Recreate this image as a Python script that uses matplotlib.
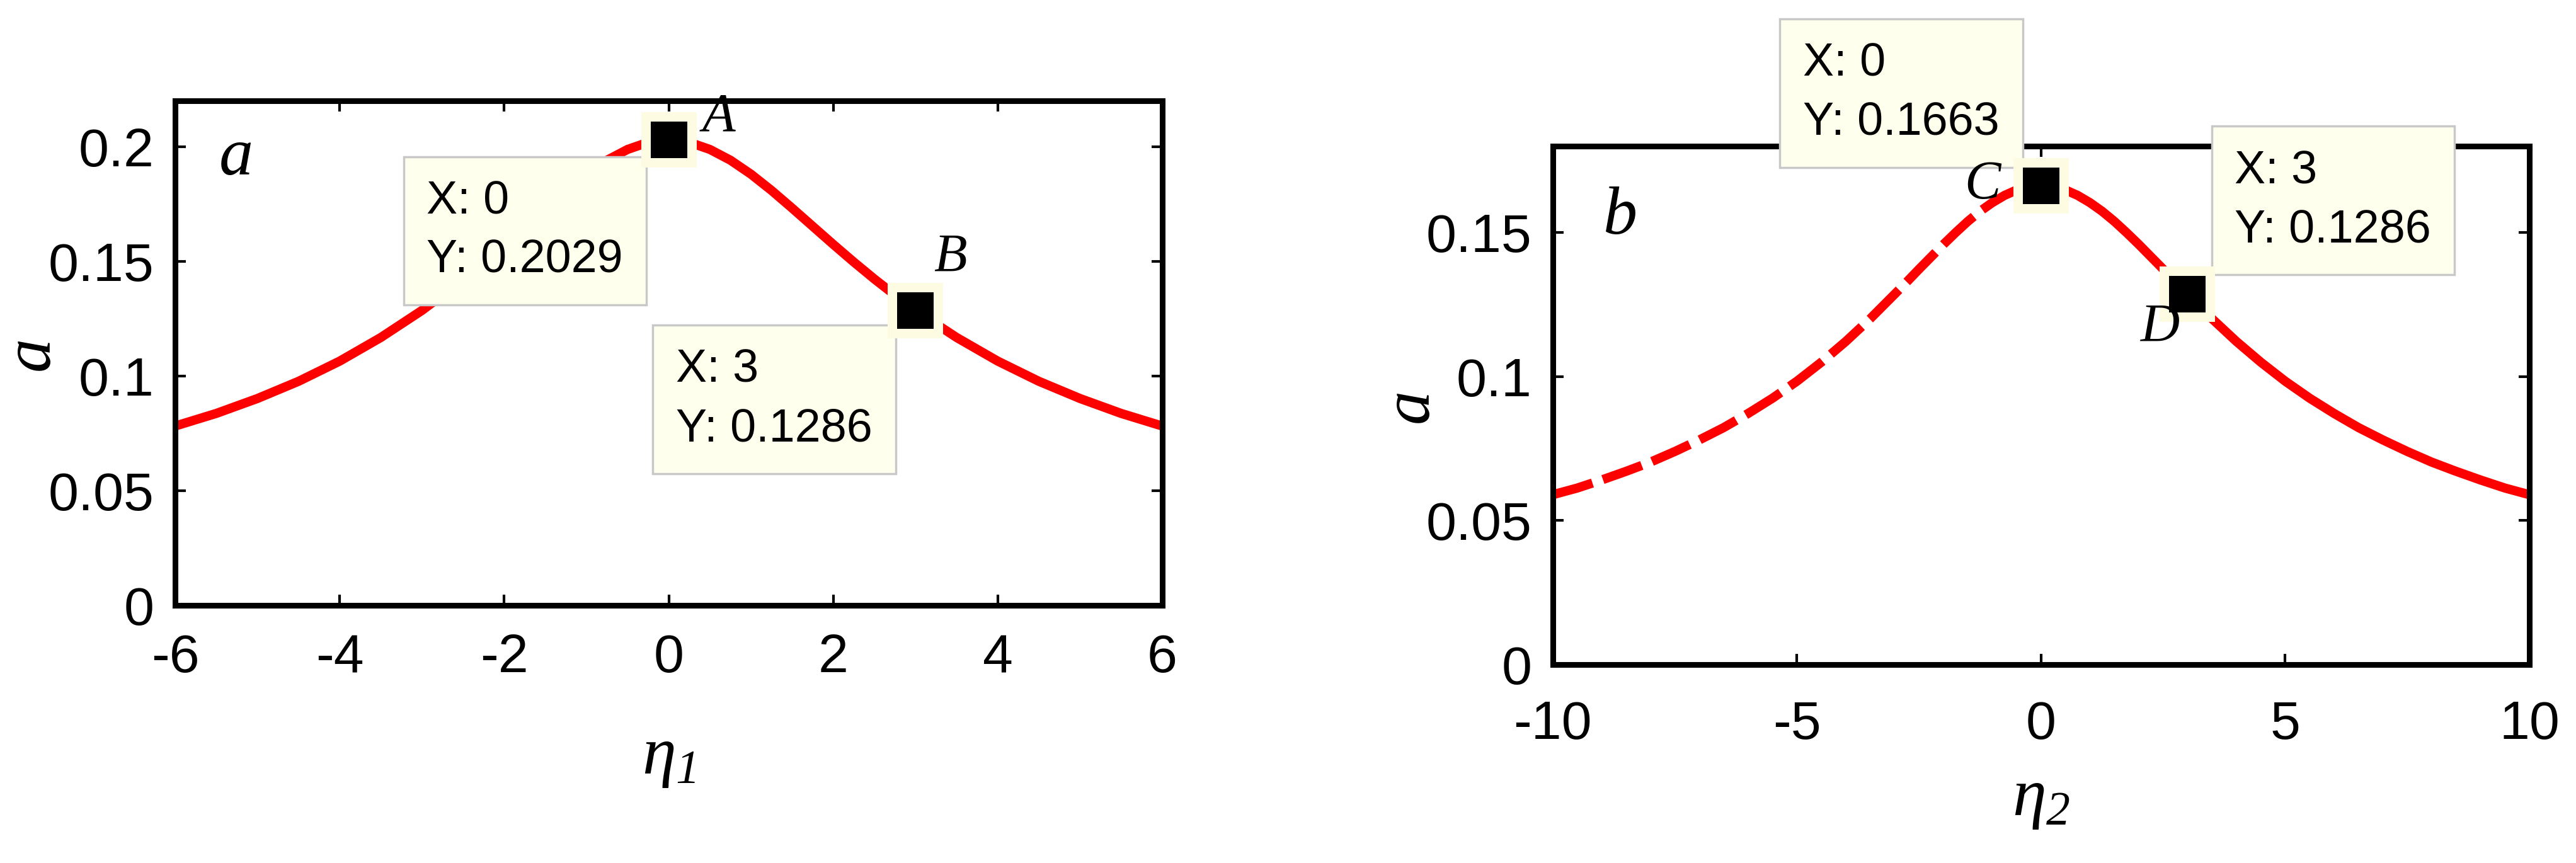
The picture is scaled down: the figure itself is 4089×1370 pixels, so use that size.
import matplotlib
matplotlib.use('Agg')
import matplotlib.pyplot as plt

plt.rcParams['font.family'] = ['Liberation Sans', 'DejaVu Sans']
plt.rcParams['mathtext.fontset'] = 'custom'
plt.rcParams['mathtext.it'] = 'Liberation Serif:italic'
plt.rcParams['mathtext.rm'] = 'Liberation Serif:italic'
plt.rcParams['mathtext.default'] = 'it'
plt.rcParams['axes.unicode_minus'] = False

# ---------------- data ----------------
eta1 = [-6, -5.5, -5, -4.5, -4, -3.5, -3, -2.75, -2.5, -2.25, -2, -1.75,
        -1.5, -1.25, -1, -0.75, -0.5, -0.25, 0,
        0.25, 0.5, 0.75, 1, 1.25, 1.5, 1.75, 2, 2.25, 2.5, 2.75, 3, 3.5, 4,
        4.5, 5, 5.5, 6]
a1 = [0.0782, 0.0837, 0.0902, 0.0977, 0.1065, 0.1168, 0.1286, 0.1353,
      0.1423, 0.1497, 0.1574, 0.1653, 0.1732, 0.1809, 0.1880, 0.1941,
      0.1988, 0.2019, 0.2029,
      0.2019, 0.1988, 0.1941, 0.1880, 0.1809, 0.1732, 0.1653, 0.1574,
      0.1497, 0.1423, 0.1353, 0.1286, 0.1168, 0.1065, 0.0977, 0.0902,
      0.0837, 0.0782]

eta2_neg = [-10, -9.5, -9, -8.5, -8, -7.5, -7, -6.5, -6, -5.5, -5, -4.5, -4,
            -3.5, -3, -2.75, -2.5, -2.25, -2, -1.75, -1.5, -1.25, -1, -0.75,
            -0.5, -0.25, 0]
a2_neg = [0.0590, 0.0613, 0.0641, 0.0671, 0.0703, 0.0740, 0.0780, 0.0823,
          0.0872, 0.0925, 0.0984, 0.1050, 0.1122, 0.1201, 0.1286, 0.1329,
          0.1373, 0.1416, 0.1459, 0.1500, 0.1539, 0.1574, 0.1604, 0.1629,
          0.1648, 0.1659, 0.1663]
eta2_pos = [0, 0.25, 0.5, 0.75, 1, 1.25, 1.5, 1.75, 2, 2.25, 2.5, 2.75, 3,
            3.5, 4, 4.5, 5, 5.5, 6, 6.5, 7, 7.5, 8, 8.5, 9, 9.5, 10]
a2_pos = [0.1663, 0.1659, 0.1648, 0.1629, 0.1604, 0.1574, 0.1539, 0.1500,
          0.1459, 0.1416, 0.1373, 0.1329, 0.1286, 0.1201, 0.1122, 0.1050,
          0.0984, 0.0925, 0.0872, 0.0823, 0.0780, 0.0740, 0.0703, 0.0671,
          0.0641, 0.0613, 0.0590]

tips1_x = [0, 3]
tips1_y = [0.2029, 0.1286]
tips1_names = ['A', 'B']
tips2_x = [0, 3]
tips2_y = [0.1663, 0.1286]
tips2_names = ['C', 'D']

xticks1 = [-6, -4, -2, 0, 2, 4, 6]
xticklabels1 = ['-6', '-4', '-2', '0', '2', '4', '6']
yticks1 = [0, 0.05, 0.1, 0.15, 0.2]
yticklabels1 = ['0', '0.05', '0.1', '0.15', '0.2']
xticks2 = [-10, -5, 0, 5, 10]
xticklabels2 = ['-10', '-5', '0', '5', '10']
yticks2 = [0, 0.05, 0.1, 0.15]
yticklabels2 = ['0', '0.05', '0.1', '0.15']

# ---------------- style ----------------
RED = '#ff0000'
LW = 10.5
TICK_FS = 62
TIP_FS = 53
SERIF = 'Liberation Serif'
TIP_BG = '#ffffee'
TIP_EC = '#c8c8c8'
HALO = '#fdfce3'

fig = plt.figure(figsize=(40.89, 13.70), dpi=100)
fig.patch.set_facecolor('white')

ax1 = fig.add_axes([0.0680, 0.2985, 0.3832, 0.5847])
ax2 = fig.add_axes([0.6028, 0.2299, 0.3791, 0.6007])


def style_axes(ax, xt, xtl, yt, ytl, xlim, ylim, xpad):
    ax.set_xlim(*xlim)
    ax.set_ylim(*ylim)
    ax.set_xticks(xt)
    ax.set_xticklabels(xtl)
    ax.set_yticks(yt)
    ax.set_yticklabels(ytl)
    for s in ax.spines.values():
        s.set_linewidth(6.5)
        s.set_color('black')
    ax.tick_params(axis='both', which='major', direction='in', length=12,
                   width=3, top=True, right=True, labelsize=TICK_FS,
                   color='black')
    ax.tick_params(axis='y', pad=24)
    ax.tick_params(axis='x', pad=xpad)


style_axes(ax1, xticks1, xticklabels1, yticks1, yticklabels1,
           (-6, 6), (0, 0.22), 32)
style_axes(ax2, xticks2, xticklabels2, yticks2, yticklabels2,
           (-10, 10), (0, 0.18), 40)

# curves
ax1.plot(eta1, a1, color=RED, lw=LW, solid_capstyle='butt',
         solid_joinstyle='round', zorder=2)
ax2.plot(eta2_neg, a2_neg, color=RED, lw=LW, linestyle=(0, (4.5, 1.2)),
         dash_capstyle='butt', zorder=2)
ax2.plot(eta2_pos, a2_pos, color=RED, lw=LW, solid_capstyle='butt',
         solid_joinstyle='round', zorder=2)

# data tips
tip_offsets1 = [(-276.5, -45.4), (-273.6, -43.2)]
tip_offsets2 = [(-272.0, 164.0), (54.0, 165.6)]
name_offsets1 = [(57.6, 10.8), (39.6, 44.6)]
name_offsets2 = [(-67.0, -14.4), (-31.0, -54.0)]


def draw_tips(ax, xs, ys, names, toffs, noffs):
    for x, y, nm, to, no in zip(xs, ys, names, toffs, noffs):
        ax.annotate('X: %g\nY: %.4f' % (x, y), xy=(x, y), xytext=to,
                    textcoords='offset points', ha='left', va='top',
                    fontsize=TIP_FS, linespacing=1.45, color='black',
                    bbox=dict(boxstyle='square,pad=0.5', fc=TIP_BG,
                              ec=TIP_EC, lw=2.5),
                    zorder=6, annotation_clip=False)
        ax.annotate(nm, xy=(x, y), xytext=no, textcoords='offset points',
                    ha='center', va='baseline', fontsize=62,
                    fontfamily=SERIF, fontstyle='italic', zorder=8,
                    annotation_clip=False)
    ax.plot(xs, ys, linestyle='none', marker='s', markersize=63,
            markerfacecolor=HALO, markeredgewidth=0, zorder=7, clip_on=False)
    ax.plot(xs, ys, linestyle='none', marker='s', markersize=42,
            markerfacecolor='black', markeredgewidth=0, zorder=7.5,
            clip_on=False)


draw_tips(ax1, tips1_x, tips1_y, tips1_names, tip_offsets1, name_offsets1)
draw_tips(ax2, tips2_x, tips2_y, tips2_names, tip_offsets2, name_offsets2)

# panel labels
ax1.text(0.062, 0.854, 'a', transform=ax1.transAxes, ha='center',
         va='baseline', fontsize=78, fontfamily=SERIF, fontstyle='italic')
ax2.text(0.069, 0.831, 'b', transform=ax2.transAxes, ha='center',
         va='baseline', fontsize=78, fontfamily=SERIF, fontstyle='italic')

# axis labels
for ax, sub, ly in ((ax1, '1', -0.240), (ax2, '2', -0.199)):
    ax.set_ylabel('a', fontsize=78, fontfamily=SERIF, fontstyle='italic',
                  va='center')
    ax.yaxis.set_label_coords(-0.145, 0.5)
    ax.set_xlabel(r'$\eta_{%s}$' % sub, fontsize=78, va='top')
    ax.xaxis.set_label_coords(0.5, ly)

fig.savefig('out.png', dpi=100, facecolor='white')
